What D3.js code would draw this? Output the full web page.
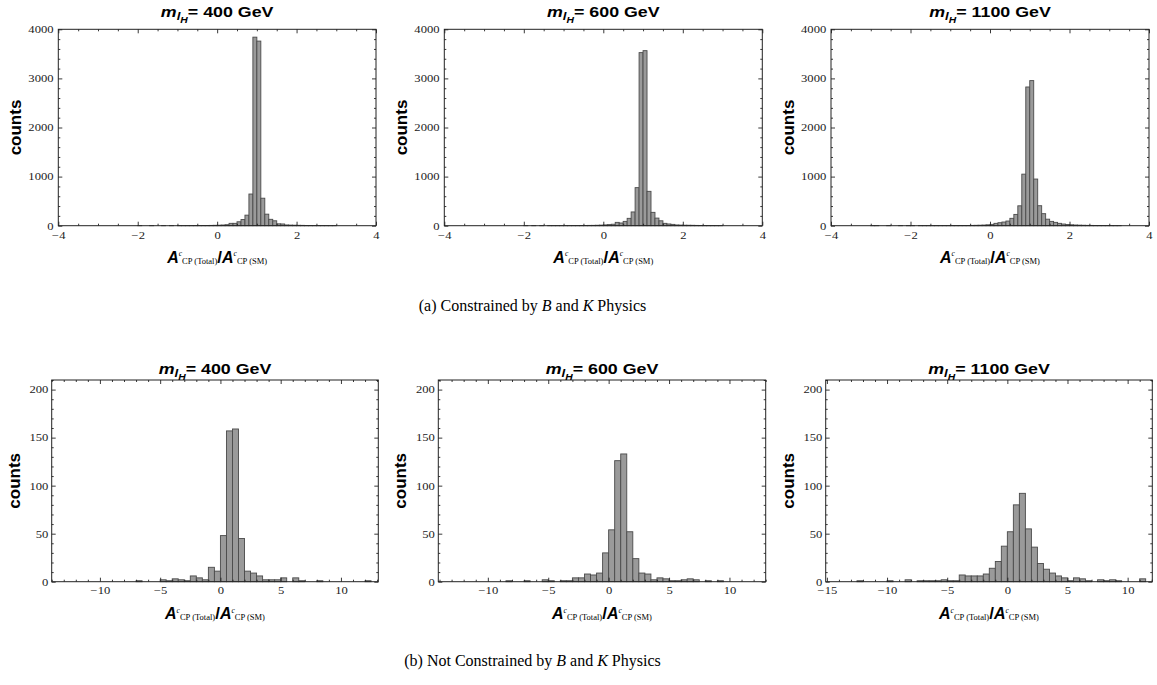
<!DOCTYPE html>
<html><head><meta charset="utf-8">
<script src="https://cdn.jsdelivr.net/npm/d3@7"></script>
<style>body{margin:0;background:#fff} svg{display:block} text{-webkit-font-smoothing:antialiased}</style>
</head><body>
<svg id="chart" width="1157" height="685"></svg>
<script>
// ---------------- DATA ----------------
const massLabels = ["400", "600", "1100"];

// (a) constrained: bin width 0.1
const topBinWidth = 0.1;
const top400Start = -2.0;
const top400Counts = [
  1,0,0,1,0,0,1,0,1,0,
  2,1,2,2,3,3,4,5,6,8,
  10,14,20,48,48,80,125,215,645,3840,
  3760,560,235,130,100,38,35,15,12,10,
  8,7,5,4,3,3,2,2,1,1];
const top600Start = -2.0;
const top600Counts = [
  1,0,1,0,1,0,1,1,1,1,
  2,2,3,3,4,5,6,7,9,12,
  16,22,30,68,55,88,150,280,775,3525,
  3565,700,272,155,100,48,35,27,15,12,
  10,9,8,6,5,4,3,3,2,1];
const top1100Start = -3.0;
const top1100Counts = [
  1,1,0,0,1,0,0,1,0,1,
  1,0,1,1,1,1,2,1,2,2,
  3,3,4,4,5,6,8,10,13,18,
  27,48,61,75,95,150,230,405,1050,2825,
  2955,950,407,245,133,88,68,48,34,25,
  18,14,11,9,7,6,5,4,3,3,
  2,1,1];

// (b) not constrained: bin width 0.5
const botBinWidth = 0.5;
const bot400Start = -7.0;
const bot400Counts = [
  1,0,0,0,2,1,3,2,1,6,
  4,2,15,11,48,157,159,45,11,9,
  6,2,2,2,4,0,4,1,0,0,
  1,0,0,0,0,0,0,0,1];
const bot600Start = -8.5;
const bot600Counts = [
  1,0,0,1,0,0,2,1,0,1,
  1,4,4,8,7,9,30,54,126,133,
  52,24,9,8,2,4,3,1,1,2,
  3,2,0,1,0,1];
const bot1100Start = -12.5;
const bot1100Counts = [
  1,0,0,0,0,1,0,0,2,0,
  1,1,1,1,2,1,1,7,6,6,
  6,8,14,21,37,52,80,92,55,36,
  19,13,9,6,4,1,4,3,1,0,
  2,1,2,1,0,0,0,3];

// axis ranges and ticks
const topXDomain = [-4, 4];
const topYDomain = [0, 4000];
const topXTicks = [-4, -2, 0, 2, 4];
const topXMinorStep = 0.5;
const topYTicks = [0, 1000, 2000, 3000, 4000];
const topYMinorStep = 200;

const bot400XDomain = [-14, 13.1];
const bot600XDomain = [-14.1, 13.0];
const bot1100XDomain = [-15.1, 12.05];
const botYDomain = [0, 210];
const botXTicks = [-15, -10, -5, 0, 5, 10];
const botXMinorStep = 1;
const botYTicks = [0, 50, 100, 150, 200];
const botYMinorStep = 10;

const captionA = ["(a) Constrained by ", "B", " and ", "K", " Physics"];
const captionB = ["(b) Not Constrained by ", "B", " and ", "K", " Physics"];

// ---------------- LAYOUT ----------------
const svg = d3.select("#chart");
const SANS = "'Liberation Sans', Arial, Helvetica, sans-serif";
const SERIF = "'Liberation Serif', 'Times New Roman', serif";

const panels = [
  {L: 58.3, R: 376, T: 29.3, B: 225.7, xd: topXDomain, yd: topYDomain, start: top400Start, w: topBinWidth, counts: top400Counts, mass: massLabels[0], row: "top"},
  {L: 444.3, R: 762.3, T: 29.3, B: 225.7, xd: topXDomain, yd: topYDomain, start: top600Start, w: topBinWidth, counts: top600Counts, mass: massLabels[1], row: "top"},
  {L: 831, R: 1149, T: 29.3, B: 225.7, xd: topXDomain, yd: topYDomain, start: top1100Start, w: topBinWidth, counts: top1100Counts, mass: massLabels[2], row: "top"},
  {L: 51.7, R: 378.3, T: 380, B: 581.7, xd: bot400XDomain, yd: botYDomain, start: bot400Start, w: botBinWidth, counts: bot400Counts, mass: massLabels[0], row: "bot"},
  {L: 438.3, R: 765.7, T: 380, B: 581.7, xd: bot600XDomain, yd: botYDomain, start: bot600Start, w: botBinWidth, counts: bot600Counts, mass: massLabels[1], row: "bot"},
  {L: 825.7, R: 1152.3, T: 380, B: 581.7, xd: bot1100XDomain, yd: botYDomain, start: bot1100Start, w: botBinWidth, counts: bot1100Counts, mass: massLabels[2], row: "bot"}
];

const fmt = d3.format("d");

function minorTicks(domain, step, majors) {
  const out = [];
  const s = Math.ceil(domain[0] / step - 1e-9), e = Math.floor(domain[1] / step + 1e-9);
  for (let k = s; k <= e; k++) {
    const v = +(k * step).toFixed(6);
    if (!majors.some(m => Math.abs(m - v) < 1e-9)) out.push(v);
  }
  return out;
}

function drawPanel(p) {
  const top = p.row === "top";
  const x = d3.scaleLinear().domain(p.xd).range([p.L, p.R]);
  const y = d3.scaleLinear().domain(p.yd).range([p.B, p.T]);
  const g = svg.append("g");

  // bars
  const bins = p.counts.map((c, i) => ({x0: p.start + i * p.w, x1: p.start + (i + 1) * p.w, c}))
    .filter(d => d.c > 0);
  g.append("g").selectAll("rect").data(bins).join("rect")
    .attr("x", d => x(d.x0))
    .attr("width", d => x(d.x1) - x(d.x0))
    .attr("y", d => y(d.c))
    .attr("height", d => y(0) - y(d.c))
    .attr("fill", "#9a9a9a")
    .attr("stroke", "#4a4a4a")
    .attr("stroke-width", 0.9);

  const xMaj = (top ? topXTicks : botXTicks).filter(v => v >= p.xd[0] && v <= p.xd[1]);
  const yMaj = top ? topYTicks : botYTicks;
  const xMin = minorTicks(p.xd, top ? topXMinorStep : botXMinorStep, xMaj);
  const yMin = minorTicks(p.yd, top ? topYMinorStep : botYMinorStep, yMaj);

  const tickStyle = sel => {
    sel.select(".domain").remove();
    sel.selectAll("line").attr("stroke", "#222").attr("stroke-width", 0.9);
  };
  const TF = 10.5, SX = 1.2;

  // bottom axis (labels)
  const gb = g.append("g").attr("transform", `translate(0,${p.B})`)
    .call(d3.axisBottom(x).tickValues(xMaj).tickSizeInner(-4).tickSizeOuter(0).tickPadding(top ? 5.6 : 5.2).tickFormat(fmt));
  tickStyle(gb);
  gb.selectAll("text").attr("font-family", SERIF).attr("font-size", TF).attr("fill", "#1a1a1a")
    .attr("transform", `scale(${SX},1)`);
  g.append("g").attr("transform", `translate(0,${p.B})`)
    .call(d3.axisBottom(x).tickValues(xMin).tickSizeInner(-2).tickSizeOuter(0).tickFormat(""))
    .call(tickStyle);

  // left axis (labels)
  const gl = g.append("g").attr("transform", `translate(${p.L},0)`)
    .call(d3.axisLeft(y).tickValues(yMaj).tickSizeInner(-4).tickSizeOuter(0).tickFormat(fmt));
  tickStyle(gl);
  gl.selectAll("text").attr("font-family", SERIF).attr("font-size", TF).attr("fill", "#1a1a1a")
    .attr("x", -(top ? 4.8 : 3.4) / SX).attr("transform", `scale(${SX},1)`);
  g.append("g").attr("transform", `translate(${p.L},0)`)
    .call(d3.axisLeft(y).tickValues(yMin).tickSizeInner(-2).tickSizeOuter(0).tickFormat(""))
    .call(tickStyle);

  // top & right mirrored ticks
  g.append("g").attr("transform", `translate(0,${p.T})`)
    .call(d3.axisTop(x).tickValues(xMaj).tickSizeInner(-4).tickSizeOuter(0).tickFormat(""))
    .call(tickStyle);
  g.append("g").attr("transform", `translate(0,${p.T})`)
    .call(d3.axisTop(x).tickValues(xMin).tickSizeInner(-2).tickSizeOuter(0).tickFormat(""))
    .call(tickStyle);
  g.append("g").attr("transform", `translate(${p.R},0)`)
    .call(d3.axisRight(y).tickValues(yMaj).tickSizeInner(-4).tickSizeOuter(0).tickFormat(""))
    .call(tickStyle);
  g.append("g").attr("transform", `translate(${p.R},0)`)
    .call(d3.axisRight(y).tickValues(yMin).tickSizeInner(-2).tickSizeOuter(0).tickFormat(""))
    .call(tickStyle);

  // frame
  g.append("rect").attr("x", p.L).attr("y", p.T).attr("width", p.R - p.L).attr("height", p.B - p.T)
    .attr("fill", "none").attr("stroke", "#222").attr("stroke-width", 1);

  const cx = (p.L + p.R) / 2;

  // title
  const tBase = top ? 17.3 : 374;
  const t = g.append("text").attr("transform", `translate(${cx},${tBase}) scale(1.15,1)`)
    .attr("text-anchor", "middle").attr("font-family", SANS).attr("font-weight", "bold")
    .attr("font-size", 15.5).attr("fill", "#000");
  t.append("tspan").attr("font-style", "italic").text("m");
  t.append("tspan").attr("font-style", "italic").attr("font-size", 11.5).attr("dy", 2.5).text("l");
  t.append("tspan").attr("font-style", "italic").attr("font-size", 9).attr("dy", 3.5).text("H");
  t.append("tspan").attr("dy", -6).text("= " + p.mass + " GeV");

  // y label
  g.append("text").attr("transform", `translate(${p.L - (top ? 37.5 : 32)},${(p.T + p.B) / 2}) rotate(-90)`)
    .attr("text-anchor", "middle").attr("font-family", SANS).attr("font-weight", "bold")
    .attr("font-size", 17).attr("fill", "#000").text("counts");

  // x label
  const xBase = top ? 262.5 : 619;
  const xl = g.append("text").attr("x", cx).attr("y", xBase).attr("text-anchor", "middle").attr("fill", "#000");
  const part = (txt, fam, size, opts = {}) => {
    const s = xl.append("tspan").attr("font-family", fam).attr("font-size", size).text(txt);
    if (opts.bold) s.attr("font-weight", "bold");
    if (opts.italic) s.attr("font-style", "italic");
    if (opts.dy) s.attr("dy", opts.dy);
    return s;
  };
  part("A", SANS, 16, {bold: true, italic: true});
  part("c", SERIF, 7.5, {italic: true, dy: -6.5});
  part("CP (Total)", SERIF, 8.5, {dy: 7.5});
  part("/", SANS, 17, {bold: true, dy: -1});
  part("A", SANS, 16, {bold: true, italic: true});
  part("c", SERIF, 7.5, {italic: true, dy: -6.5});
  part("CP (SM)", SERIF, 8.5, {dy: 7.5});
}

panels.forEach(drawPanel);

function caption(parts, yBase) {
  const c = svg.append("text").attr("x", 532.5).attr("y", yBase).attr("text-anchor", "middle")
    .attr("font-family", SERIF).attr("font-size", 16).attr("fill", "#000");
  parts.forEach((s, i) => {
    const sp = c.append("tspan").text(s);
    if (i === 1 || i === 3) sp.attr("font-style", "italic");
  });
}
caption(captionA, 310.5);
caption(captionB, 665.5);
</script>
</body></html>
